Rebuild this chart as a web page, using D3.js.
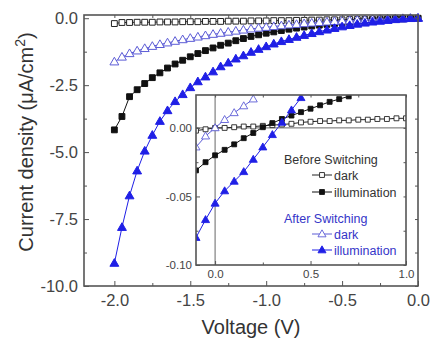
<!DOCTYPE html>
<html><head><meta charset="utf-8">
<script src="https://cdn.jsdelivr.net/npm/d3@7"></script>
<style>body{margin:0;background:#fff}svg{display:block;font-family:Arial,"Liberation Sans",sans-serif}</style>
</head><body><svg id="c" width="432" height="341"></svg>
<script>
// ---- Main plot data ----
const voltsMain = [-2.00,-1.95,-1.90,-1.85,-1.80,-1.75,-1.70,-1.65,-1.60,-1.55,-1.50,-1.45,-1.40,-1.35,-1.30,-1.25,-1.20,-1.15,-1.10,-1.05,-1.00,-0.95,-0.90,-0.85,-0.80,-0.75,-0.70,-0.65,-0.60,-0.55,-0.50,-0.45,-0.40,-0.35,-0.30,-0.25,-0.20,-0.15,-0.10,-0.05,0.00];
const mainDarkBefore = [-0.20,-0.16,-0.16,-0.15,-0.15,-0.15,-0.14,-0.14,-0.14,-0.13,-0.13,-0.13,-0.12,-0.12,-0.12,-0.11,-0.11,-0.11,-0.10,-0.10,-0.10,-0.09,-0.09,-0.09,-0.08,-0.08,-0.07,-0.07,-0.06,-0.06,-0.06,-0.05,-0.05,-0.04,-0.04,-0.03,-0.03,-0.02,-0.02,-0.01,-0.01];
const mainIllumBefore = [-4.17,-3.67,-2.93,-2.67,-2.44,-2.22,-2.04,-1.86,-1.71,-1.57,-1.44,-1.32,-1.21,-1.11,-1.01,-0.93,-0.84,-0.76,-0.68,-0.62,-0.56,-0.51,-0.46,-0.41,-0.37,-0.33,-0.29,-0.26,-0.23,-0.20,-0.17,-0.15,-0.12,-0.10,-0.08,-0.06,-0.05,-0.03,-0.02,-0.01,0.00];
const mainDarkAfter = [-1.63,-1.45,-1.32,-1.22,-1.13,-1.05,-0.98,-0.92,-0.86,-0.80,-0.75,-0.70,-0.65,-0.60,-0.56,-0.52,-0.48,-0.44,-0.40,-0.37,-0.34,-0.31,-0.28,-0.25,-0.23,-0.20,-0.18,-0.16,-0.14,-0.12,-0.10,-0.09,-0.07,-0.06,-0.05,-0.04,-0.03,-0.02,-0.01,-0.005,0.00];
const mainIllumAfter = [-9.15,-7.81,-6.63,-5.70,-4.96,-4.37,-3.85,-3.45,-3.11,-2.85,-2.59,-2.37,-2.19,-2.00,-1.81,-1.67,-1.52,-1.40,-1.27,-1.16,-1.06,-0.96,-0.87,-0.79,-0.71,-0.64,-0.57,-0.50,-0.44,-0.38,-0.32,-0.27,-0.22,-0.18,-0.14,-0.11,-0.08,-0.05,-0.03,-0.01,0.00];
const mainXTicks = [-2.0,-1.5,-1.0,-0.5,0.0];
const mainXMinor = [-1.75,-1.25,-0.75,-0.25];
const mainYTicks = [0.0,-2.5,-5.0,-7.5,-10.0];
const mainYMinor = [-1.25,-3.75,-6.25,-8.75];

// ---- Inset data ----
const voltsInset = [-0.10,-0.05,0.00,0.05,0.10,0.15,0.20,0.25,0.30,0.35,0.40,0.45,0.50,0.55,0.60,0.65,0.70,0.75,0.80,0.85,0.90,0.95,1.00];
const insetDarkBefore = [-0.002,-0.001,0.000,0.000,0.0005,0.001,0.001,0.0015,0.002,0.0025,0.003,0.004,0.0045,0.005,0.005,0.0055,0.0055,0.006,0.006,0.0065,0.0065,0.007,0.007];
const insetIllumBefore = [-0.031,-0.025,-0.020,-0.016,-0.012,-0.0075,-0.0037,0.0005,0.0035,0.0065,0.009,0.0115,0.014,0.0165,0.019,0.021,0.023];
const insetDarkAfter = [-0.014,-0.006,0.000,0.006,0.011,0.016,0.021];
const insetIllumAfter = [-0.080,-0.067,-0.055,-0.046,-0.039,-0.032,-0.023,-0.014,-0.005,0.004,0.013,0.022];
const insetXTicks = [0.0,0.5,1.0];
const insetXMinor = [0.25,0.75];
const insetYTicks = [0.00,-0.05,-0.10];
const insetYMinor = [-0.025,-0.075];

const legendGroups = ["Before Switching","After Switching"];
const legendItems = ["dark","illumination"];

const svg = d3.select("#c");
const frameCol = "#555";
const tickCol = "#444";
const blue = "#1f1fe6";
const lightBlue = "#5c5cd6";

const series = [
  {key:"db", color:"#222", fill:"#fff", sym:d3.symbolSquare},
  {key:"ib", color:"#111", fill:"#111", sym:d3.symbolSquare},
  {key:"da", color:lightBlue, fill:"#fff", sym:d3.symbolTriangle},
  {key:"ia", color:blue, fill:blue, sym:d3.symbolTriangle}
];

function drawPlot(g, x, y, data, opts){
  const line = d3.line().x(d=>x(d[0])).y(d=>y(d[1]));
  data.forEach((s,i)=>{
    const st = series[i];
    g.append("path").datum(s).attr("d",line).attr("fill","none")
      .attr("stroke",st.color).attr("stroke-width",opts.lw);
    g.selectAll(null).data(s).join("path")
      .attr("transform",d=>`translate(${x(d[0])},${y(d[1])+(st.sym===d3.symbolTriangle?opts.triOff:0)})`)
      .attr("d",d3.symbol(st.sym, st.sym===d3.symbolTriangle?opts.tri:opts.sq))
      .attr("fill",st.fill).attr("stroke",st.color).attr("stroke-width",opts.mlw);
  });
}

function axes(g, x, y, xt, xm, yt, ym, fmtX, fmtY, fs, tl, tm, padX, padY){
  const [x0,x1]=x.range(), [y0,y1]=y.range();
  const ax = g.append("g").attr("transform",`translate(0,${y0})`)
    .call(d3.axisBottom(x).tickValues(xt).tickSize(-tl).tickPadding(padX).tickFormat(fmtX));
  const ax2 = g.append("g").attr("transform",`translate(0,${y0})`)
    .call(d3.axisBottom(x).tickValues(xm).tickSize(-tm).tickFormat(""));
  const at = g.append("g").attr("transform",`translate(0,${y1})`)
    .call(d3.axisTop(x).tickValues(xt.concat(xm)).tickSize(-tm).tickFormat(""));
  const ay = g.append("g").attr("transform",`translate(${x0},0)`)
    .call(d3.axisLeft(y).tickValues(yt).tickSize(-tl).tickPadding(padY).tickFormat(fmtY));
  const ay2 = g.append("g").attr("transform",`translate(${x0},0)`)
    .call(d3.axisLeft(y).tickValues(ym).tickSize(-tm).tickFormat(""));
  const ar = g.append("g").attr("transform",`translate(${x1},0)`)
    .call(d3.axisRight(y).tickValues(yt.concat(ym)).tickSize(-tm).tickFormat(""));
  [ax,ax2,at,ay,ay2,ar].forEach(a=>{
    a.select(".domain").remove();
    a.selectAll("line").attr("stroke",frameCol).attr("stroke-width",1);
    a.selectAll("text").attr("fill",tickCol).style("font-size",fs+"px").style("font-family","Arial, 'Liberation Sans', sans-serif");
  });
  g.append("rect").attr("x",x0).attr("y",y1).attr("width",x1-x0).attr("height",y0-y1)
    .attr("fill","none").attr("stroke",frameCol).attr("stroke-width",1.6);
}

// ---- Main ----
const x = d3.scaleLinear().domain([-2.2,0]).range([84,418]);
const y = d3.scaleLinear().domain([-10,0.12]).range([286,15]);
const main = svg.append("g");
const zipM = arr => arr.map((v,i)=>[voltsMain[i],v]);
drawPlot(main, x, y, [zipM(mainDarkBefore),zipM(mainIllumBefore),zipM(mainDarkAfter),zipM(mainIllumAfter)],
  {lw:1, mlw:1, sq:34, tri:34, triOff:0.5});
axes(main, x, y, mainXTicks, mainXMinor, mainYTicks, mainYMinor, d3.format(".1f"), d3.format(".1f"), 16.5, 5, 3, 8, 6);
main.selectAll("text").text(function(){return this.textContent.replace("−","-");});

svg.append("text").attr("x",251).attr("y",334).attr("text-anchor","middle")
  .attr("fill","#333").style("font-size","20px").text("Voltage (V)");
const yl = svg.append("text").attr("transform","translate(33,142) rotate(-90)")
  .attr("text-anchor","middle").attr("fill","#333").style("font-size","20px");
yl.append("tspan").text("Current density (\u03bcA/cm");
yl.append("tspan").attr("dy",-8).style("font-size","14px").text("2");
yl.append("tspan").attr("dy",8).text(")");

// ---- Inset ----
const ix = d3.scaleLinear().domain([-0.1,1.0]).range([196,406]);
const iy = d3.scaleLinear().domain([-0.1,0.024]).range([265,95]);
const inset = svg.append("g");
inset.append("rect").attr("x",196).attr("y",95).attr("width",210).attr("height",170).attr("fill","#fff");
inset.append("defs").append("clipPath").attr("id","ic").append("rect")
  .attr("x",196).attr("y",95).attr("width",210).attr("height",170);
const ip = inset.append("g").attr("clip-path","url(#ic)");
ip.append("line").attr("x1",ix(0)).attr("x2",ix(0)).attr("y1",95).attr("y2",265).attr("stroke","#666").attr("stroke-width",1);
ip.append("line").attr("x1",196).attr("x2",406).attr("y1",iy(0)).attr("y2",iy(0)).attr("stroke","#666").attr("stroke-width",1);
const zipI = arr => arr.map((v,i)=>[voltsInset[i],v]);
drawPlot(ip, ix, iy, [zipI(insetDarkBefore),zipI(insetIllumBefore),zipI(insetDarkAfter),zipI(insetIllumAfter)],
  {lw:1, mlw:0.9, sq:24, tri:28, triOff:0.5});
axes(inset, ix, iy, insetXTicks, insetXMinor, insetYTicks, insetYMinor, d3.format(".1f"), d3.format(".2f"), 11.5, 4, 2.5, 5, 4);
inset.selectAll("text").text(function(){return this.textContent.replace("−","-");});

// ---- Legend ----
const lg = svg.append("g").style("font-size","12.5px");
const legRows = [
  {t:legendGroups[0], y:159, c:"#333"},
  {t:legendItems[0], y:175, s:0},
  {t:legendItems[1], y:192, s:1},
  {t:legendGroups[1], y:218, c:"#3535c8"},
  {t:legendItems[0], y:234, s:2},
  {t:legendItems[1], y:250, s:3}
];
legRows.forEach(r=>{
  if(r.s===undefined){
    lg.append("text").attr("x",284).attr("y",r.y+4.5).attr("fill",r.c).text(r.t);
  } else {
    const st = series[r.s];
    const tc = r.s>=2 ? "#3535c8" : "#333";
    lg.append("line").attr("x1",312).attr("x2",332).attr("y1",r.y).attr("y2",r.y).attr("stroke",st.color).attr("stroke-width",1);
    lg.append("path").attr("transform",`translate(322,${r.y+(st.sym===d3.symbolTriangle?0.5:0)})`)
      .attr("d",d3.symbol(st.sym, st.sym===d3.symbolTriangle?28:24))
      .attr("fill",st.fill).attr("stroke",st.color).attr("stroke-width",0.9);
    lg.append("text").attr("x",334).attr("y",r.y+4.5).attr("fill",tc).text(r.t);
  }
});
</script></body></html>
